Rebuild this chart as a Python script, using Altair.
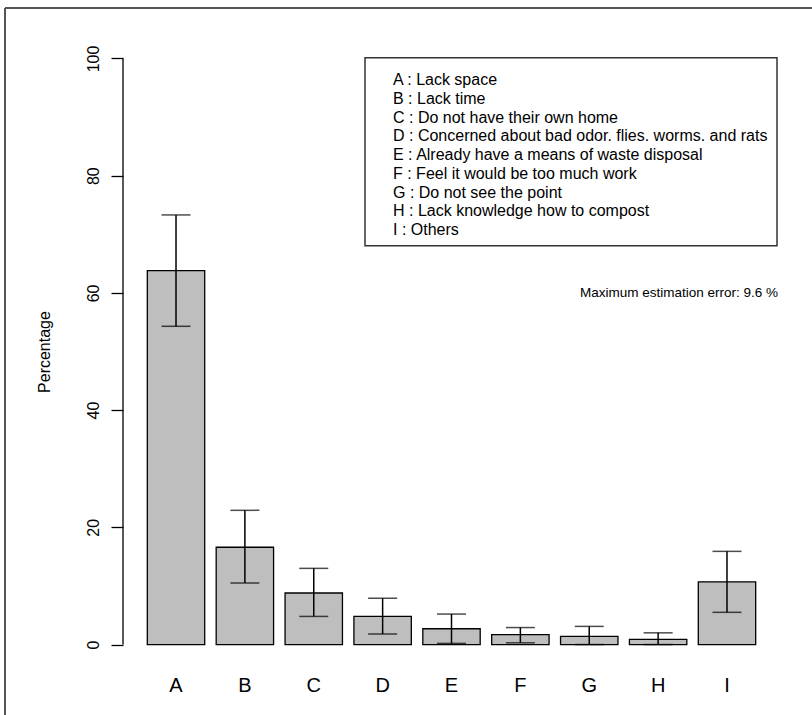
import altair as alt
import pandas as pd

FONT = "Liberation Sans"

categories = ["A", "B", "C", "D", "E", "F", "G", "H", "I"]
percent = [63.8, 16.6, 8.8, 4.8, 2.7, 1.7, 1.4, 0.9, 10.7]
ci_lower = [54.3, 10.5, 4.8, 1.8, 0.2, 0.3, 0.0, 0.0, 5.5]
ci_upper = [73.3, 22.9, 13.0, 7.9, 5.2, 2.9, 3.1, 2.0, 15.9]
y_ticks = [0, 20, 40, 60, 80, 100]
legend_lines = [
    "A : Lack space",
    "B : Lack time",
    "C : Do not have their own home",
    "D : Concerned about bad odor. flies. worms. and rats",
    "E : Already have a means of waste disposal",
    "F : Feel it would be too much work",
    "G : Do not see the point",
    "H : Lack knowledge how to compost",
    "I : Others",
]
note = "Maximum estimation error: 9.6 %"

df = pd.DataFrame({"cat": categories, "value": percent, "lower": ci_lower, "upper": ci_upper})
one = pd.DataFrame({"k": [0]})
axis_df = pd.DataFrame({"y0": [y_ticks[0]], "y1": [y_ticks[-1]]})

yscale = alt.Scale(domain=[-4, 104], nice=False, zero=False)
yaxis = alt.Axis(
    values=y_ticks, domain=False, grid=False, tickSize=12, tickColor="black", tickWidth=1.3,
    labelAngle=270, labelAlign="center", labelBaseline="alphabetic", labelPadding=13,
    labelFontSize=16, labelFont=FONT, labelColor="black",
    title="Percentage", titleAngle=270, titleX=-79, titleY=316.5, titleAlign="center",
    titleBaseline="middle", titleFontSize=16, titleFont=FONT, titleFontWeight="normal",
    titleColor="black",
)


def yenc(field):
    return alt.Y(f"{field}:Q", scale=yscale, axis=yaxis)


xenc = alt.X(
    "cat:N",
    sort=categories,
    scale=alt.Scale(paddingInner=0.1667, paddingOuter=0.353),
    axis=alt.Axis(title=None, domain=False, ticks=False, labelAngle=0, labelFontSize=20,
                  labelFont=FONT, labelPadding=7, labelBaseline="top", labelColor="black"),
)

frame_left = alt.Chart(one).mark_rule(color="#555555", strokeWidth=2).encode(
    x=alt.value(-118), y=alt.value(-27), y2=alt.value(680))
frame_top = alt.Chart(one).mark_rule(color="#555555", strokeWidth=2).encode(
    x=alt.value(-118), x2=alt.value(689), y=alt.value(-27))

legend_box = alt.Chart(one).mark_rect(fill="white", stroke="#333333", strokeWidth=1.5).encode(
    x=alt.value(242), x2=alt.value(654), y=alt.value(22.7), y2=alt.value(210.7))
legend_text = alt.Chart(one).mark_text(
    align="left", baseline="alphabetic", fontSize=16, lineHeight=18.75, font=FONT, color="black"
).encode(x=alt.value(270), y=alt.value(50), text=alt.value(legend_lines))

note_text = alt.Chart(one).mark_text(
    align="right", baseline="alphabetic", fontSize=13.5, font=FONT, color="black"
).encode(x=alt.value(655), y=alt.value(261.5), text=alt.value(note))

bars = alt.Chart(df).mark_bar(fill="#BEBEBE", stroke="black", strokeWidth=1.3).encode(
    x=xenc, y=yenc("value"))
err = alt.Chart(df).mark_rule(color="black", strokeWidth=1.5).encode(
    x=xenc, y=yenc("lower"), y2="upper:Q")
cap_hi = alt.Chart(df).mark_tick(color="black", size=29, thickness=1.5).encode(
    x=xenc, y=yenc("upper"))
cap_lo = alt.Chart(df).mark_tick(color="black", size=29, thickness=1.5).encode(
    x=xenc, y=yenc("lower"))

axis_line = alt.Chart(axis_df).mark_rule(color="black", strokeWidth=1.3).encode(
    x=alt.value(0), y=yenc("y0"), y2="y1:Q")

chart = alt.layer(
    frame_left, frame_top, legend_box, legend_text, note_text, bars, err, cap_hi, cap_lo, axis_line
).properties(
    width=657, height=633,
    padding={"left": 123, "top": 35, "right": 32, "bottom": 47},
    autosize=alt.AutoSizeParams(type="none"),
    background="white",
).configure_view(stroke=None)

chart.save("out.html", embed_options={"renderer": "svg", "actions": False})
